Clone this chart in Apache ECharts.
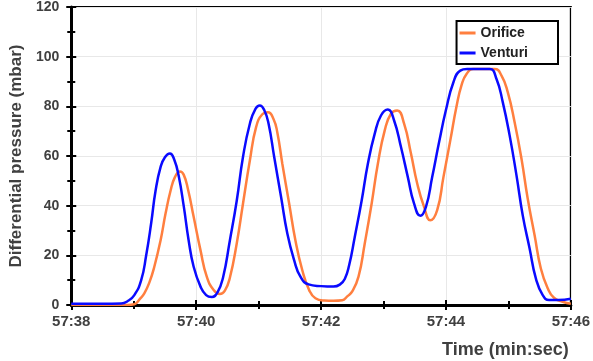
<!DOCTYPE html>
<html>
<head>
<meta charset="utf-8">
<script src="https://cdn.jsdelivr.net/npm/echarts@6/dist/echarts.min.js"></script>
<style>
  html, body { margin: 0; padding: 0; background: #fff; }
  #chart { width: 593px; height: 361px; }
</style>
</head>
<body>
<div id="chart"></div>
<script>
// Time axis: seconds elapsed since 57:38
const tickLabels = ['57:38', '57:39', '57:40', '57:41', '57:42', '57:43', '57:44', '57:45', '57:46'];

const orificeTime = [0, 0.9, 1.01, 1.1, 1.17, 1.25, 1.33, 1.43, 1.51, 1.59, 1.66, 1.74, 1.8, 1.87, 1.96,
  2.07, 2.17, 2.28, 2.38, 2.46, 2.54, 2.65, 2.75, 2.86, 2.96, 3.06, 3.15, 3.24, 3.3, 3.38, 3.49,
  3.59, 3.7, 3.81, 3.91, 4.05, 4.2, 4.34, 4.42, 4.5, 4.6, 4.7, 4.81, 4.91, 5.02, 5.12, 5.22, 5.33,
  5.44, 5.54, 5.65, 5.75, 5.86, 5.96, 6.07, 6.17, 6.25, 6.33, 6.44, 6.78, 6.89, 6.99,
  7.1, 7.21, 7.31, 7.42, 7.52, 7.63, 7.73, 7.87, 8.0];
const orificeValue = [0, 0, 0.3, 2.5, 4.7, 9, 15.4, 26, 36.8, 46, 51.5, 53.8, 52.5, 46.5, 35.5,
  22, 11.4, 6, 4.4, 5.8, 11, 24.8, 40.8, 58.2, 71.6, 76.8, 77.6, 74.8, 69.5, 56.9, 40.8,
  26, 14, 6, 2.7, 1.8, 1.7, 1.9, 3.5, 5.5, 11.4, 24.8, 40.8, 56.9, 70.3, 77, 78.3, 73,
  61, 48.9, 39.5, 34.1, 38.2, 51.5, 66.3, 80, 88.5, 93, 95, 95, 92.4, 85.7,
  73.6, 58.9, 42.8, 28.1, 14.7, 6.7, 2.9, 1.3, 0.5];

const venturiTime = [0, 0.5, 0.8, 0.9, 1.01, 1.12, 1.2, 1.28, 1.35, 1.43, 1.5, 1.58, 1.65, 1.72, 1.8,
  1.88, 1.96, 2.07, 2.16, 2.25, 2.34, 2.43, 2.54, 2.65, 2.75, 2.86, 2.95, 3.02, 3.09, 3.16, 3.25,
  3.36, 3.46, 3.57, 3.67, 3.8, 4.0, 4.2, 4.3, 4.38, 4.45, 4.54, 4.65, 4.75, 4.86, 4.96, 5.07,
  5.17, 5.28, 5.39, 5.49, 5.59, 5.68, 5.78, 5.89, 6.0, 6.12, 6.23, 6.34, 6.7, 6.81, 6.91, 7.02,
  7.13, 7.23, 7.34, 7.44, 7.55, 7.65, 7.8, 8.0];
const venturiValue = [0.5, 0.5, 0.6, 1.5, 4, 10, 20, 33, 46, 55.5, 59.5, 61, 58.5, 52, 40,
  26, 15.4, 7.4, 4, 3.2, 5, 11, 26, 42, 59.6, 73, 79, 80.3, 78.5, 73, 59.6,
  43.5, 28.8, 18, 11.4, 8.3, 7.6, 7.4, 8.2, 10.5, 16, 27.4, 42, 56.9, 69, 76.3, 78.7,
  74.3, 63.6, 51.5, 40.8, 35.9, 39.5, 51.5, 65.5, 78.5, 89.7, 94.4, 95, 95, 91, 81.7, 68.3,
  52.2, 36.1, 22.8, 10.7, 4, 2, 2, 2.5];

const pairs = (xs, ys) => xs.map((x, i) => [x, ys[i]]);

const textColor = '#404040';
const fontFamily = '"Liberation Sans", Arial, sans-serif';

const chart = echarts.init(document.getElementById('chart'), null, { renderer: 'canvas' });

// shared axis pieces; the second copy of each axis draws the inward half of the ticks
const xBase = { type: 'value', min: 0, max: 8, interval: 2 };
const yBase = { type: 'value', min: 0, max: 120, interval: 20 };

chart.setOption({
  animation: false,
  backgroundColor: '#fff',
  textStyle: { fontFamily: fontFamily },
  grid: {
    left: 66, right: 21, top: 6, bottom: 56,
    show: true, borderColor: '#000', borderWidth: 2, backgroundColor: 'transparent'
  },
  legend: {
    data: ['Orifice', 'Venturi'],
    orient: 'vertical',
    right: 35, top: 21,
    backgroundColor: '#fff',
    borderColor: '#000', borderWidth: 2, borderRadius: 0,
    padding: [5, 30, 4, 3],
    itemGap: 6,
    itemWidth: 16, itemHeight: 3,
    icon: 'rect',
    textStyle: { fontSize: 14, fontWeight: 'bold', color: '#222', fontFamily: fontFamily }
  },
  xAxis: [
    Object.assign({}, xBase, {
      name: 'Time (min:sec)',
      nameLocation: 'end',
      nameGap: -2,
      nameTextStyle: {
        fontSize: 18, fontWeight: 'bold', color: textColor, fontFamily: fontFamily,
        align: 'right', verticalAlign: 'top', padding: [36, 0, 0, 0]
      },
      axisLine: { onZero: false, lineStyle: { color: '#000', width: 3 } },
      axisTick: { show: true, inside: false, length: 5, lineStyle: { color: '#000', width: 2 } },
      minorTick: { show: true, splitNumber: 2, length: 4, lineStyle: { color: '#000', width: 2 } },
      axisLabel: {
        fontSize: 15, fontWeight: 'bold', color: textColor, margin: 9,
        formatter: v => tickLabels[Math.round(v)]
      },
      splitLine: { show: true, lineStyle: { color: '#e8e8e8', width: 1 } }
    }),
    Object.assign({}, xBase, {
      position: 'bottom',
      axisLine: { show: false },
      axisTick: { show: true, inside: true, length: 5, lineStyle: { color: '#000', width: 2 } },
      minorTick: { show: true, splitNumber: 2, length: 4, lineStyle: { color: '#000', width: 2 } },
      axisLabel: { show: false },
      splitLine: { show: false }
    })
  ],
  yAxis: [
    Object.assign({}, yBase, {
      name: 'Differential pressure (mbar)',
      nameLocation: 'middle',
      nameGap: 37,
      nameTextStyle: { fontSize: 17, fontWeight: 'bold', color: textColor, fontFamily: fontFamily },
      axisLine: { show: true, onZero: false, lineStyle: { color: '#000', width: 3 } },
      axisTick: { show: true, inside: false, length: 5, lineStyle: { color: '#000', width: 2 } },
      minorTick: { show: true, splitNumber: 2, length: 4, lineStyle: { color: '#000', width: 2 } },
      axisLabel: { fontSize: 14, fontWeight: 'bold', color: textColor, margin: 12 },
      splitLine: { show: true, lineStyle: { color: '#e8e8e8', width: 1 } }
    }),
    Object.assign({}, yBase, {
      position: 'left',
      axisLine: { show: false },
      axisTick: { show: true, inside: true, length: 5, lineStyle: { color: '#000', width: 2 } },
      minorTick: { show: true, splitNumber: 2, length: 4, lineStyle: { color: '#000', width: 2 } },
      axisLabel: { show: false },
      splitLine: { show: false }
    })
  ],
  series: [
    {
      name: 'Orifice',
      type: 'line',
      data: pairs(orificeTime, orificeValue),
      showSymbol: false,
      smooth: 0.5,
      color: '#ff7f3f',
      lineStyle: { width: 2.5, color: '#ff7f3f' },
      z: 3
    },
    {
      name: 'Venturi',
      type: 'line',
      data: pairs(venturiTime, venturiValue),
      showSymbol: false,
      smooth: 0.5,
      color: '#0a0aff',
      lineStyle: { width: 2.5, color: '#0a0aff' },
      z: 4
    }
  ]
});
</script>
</body>
</html>
